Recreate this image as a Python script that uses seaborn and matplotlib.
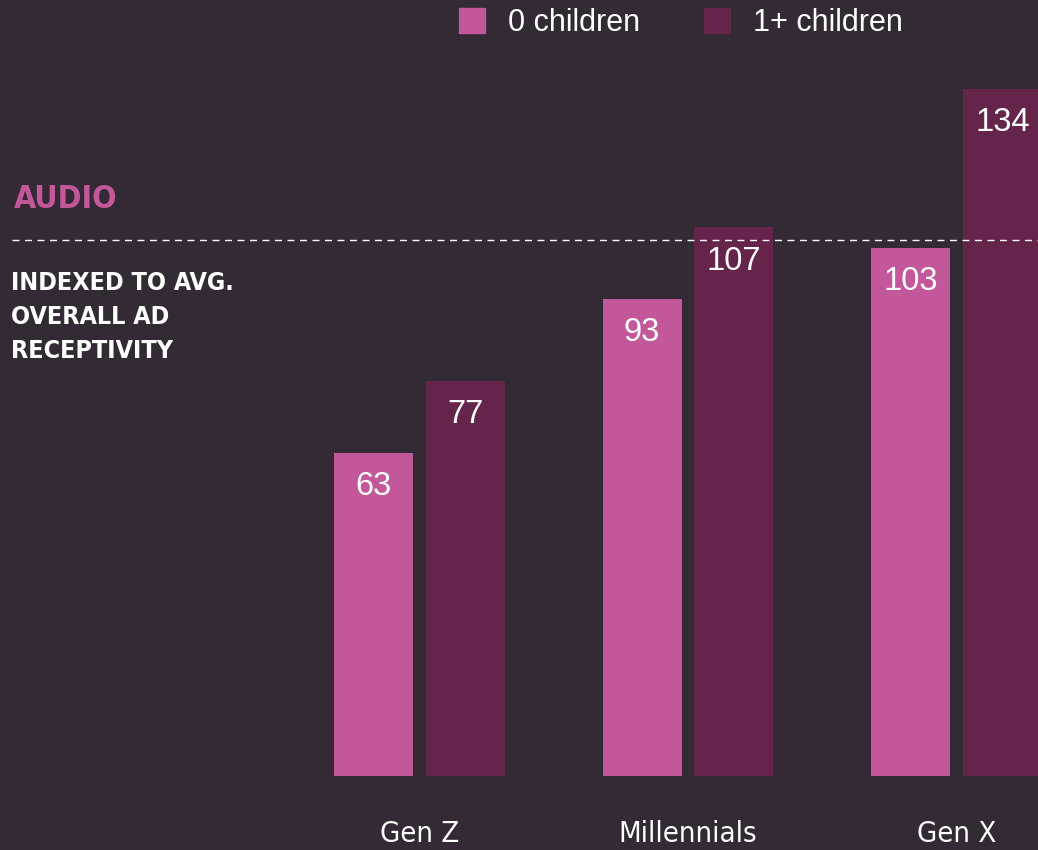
import matplotlib
matplotlib.use("Agg")
import matplotlib.pyplot as plt
from matplotlib.lines import Line2D
import seaborn as sns
import pandas as pd

# Audio ad receptivity index by generation and parental status
generations = ["Gen Z", "Millennials", "Gen X"]
no_children = [63, 93, 103]
with_children = [77, 107, 134]
series_names = ["0 children", "1+ children"]

BG = "#342a36"
PINK = "#c2579a"
PLUM = "#65244a"

df = pd.DataFrame({
    "generation": generations * 2,
    "index": no_children + with_children,
    "group": [series_names[0]] * 3 + [series_names[1]] * 3,
})

sns.set_theme(style="white")
plt.rcParams["font.family"] = ["Liberation Sans", "DejaVu Sans"]

W, H = 1038, 850
fig = plt.figure(figsize=(W / 100, H / 100), dpi=100, facecolor=BG)

# axes: y=0 at pixel row 776, category spacing ~268.5 px
ax_bottom_px = 776
ax = fig.add_axes([0, (H - ax_bottom_px) / H, 1, ax_bottom_px / H])
ax.set_facecolor(BG)

sns.barplot(data=df, x="generation", y="index", hue="group",
            order=generations, hue_order=series_names,
            palette=[PINK, PLUM], width=0.685, gap=0.141,
            saturation=1, legend=False, ax=ax, errorbar=None,
            linewidth=0, edgecolor="none")

px_per_unit_x = 268.5
ax.set_xlim(-419.5 / px_per_unit_x, (W - 419.5) / px_per_unit_x)
ax.set_ylim(0, ax_bottom_px / 5.13)

for s in ax.spines.values():
    s.set_visible(False)
ax.set_yticks([])
ax.set_xlabel("")
ax.set_ylabel("")
ax.tick_params(axis="x", length=0, pad=32, colors="white")
for lbl in ax.get_xticklabels():
    lbl.set_fontfamily("DejaVu Sans")
    lbl.set_fontstretch("condensed")
    lbl.set_fontsize(21)
    lbl.set_color("white")

# value labels inside bar tops
for cont in ax.containers:
    for bar, val in zip(cont.patches, cont.datavalues):
        ax.annotate(f"{val:.0f}", (bar.get_x() + bar.get_width() / 2, val),
                    xytext=(0, -34), textcoords="offset pixels",
                    ha="center", va="center", color="white", fontsize=23.5)

# legend
handles = [plt.Rectangle((0, 0), 1, 1, color=c) for c in (PINK, PLUM)]
fig.legend(handles, series_names, loc="upper left",
           bbox_to_anchor=(459 / W, 1 - 8 / H), ncol=2, frameon=False,
           fontsize=22, handlelength=0.85, handleheight=0.85,
           handletextpad=0.75, columnspacing=2.1, borderpad=0,
           borderaxespad=0, labelcolor="white")

# section heading and note
fig.text(14 / W, 1 - 199 / H, "AUDIO", color=PINK, fontsize=23,
         fontweight="bold", family="DejaVu Sans", stretch="condensed",
         va="center", ha="left")
for i, line in enumerate(["INDEXED TO AVG.", "OVERALL AD", "RECEPTIVITY"]):
    fig.text(11 / W, 1 - (283 + 34 * i) / H, line, color="white",
             fontsize=18, fontweight="bold", family="DejaVu Sans",
             stretch="condensed", va="center", ha="left")

# dashed separator
fig.add_artist(Line2D([12 / W, 1], [1 - 240 / H, 1 - 240 / H],
                      transform=fig.transFigure, color="white",
                      lw=1, ls=(0, (5, 4))))

fig.savefig("out.png", dpi=100, facecolor=BG)
